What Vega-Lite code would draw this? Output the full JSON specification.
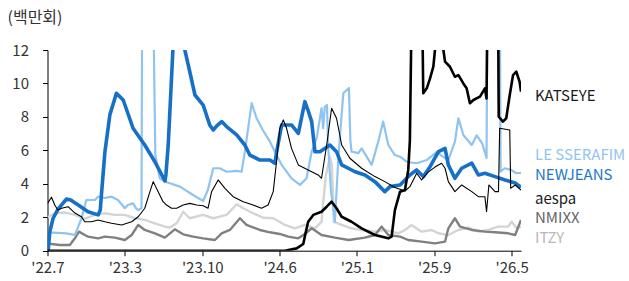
{
  "$schema": "https://vega.github.io/schema/vega-lite/v6.json",
  "width": 473.5,
  "height": 200.7,
  "autosize": {"type": "none"},
  "padding": {"left": 47.5, "top": 50, "right": 108, "bottom": 30.3},
  "background": "white",
  "config": {
    "view": {"stroke": null},
    "font": "Noto Sans CJK KR",
    "axis": {"grid": false, "domainColor": "#000", "tickColor": "#000", "labelColor": "#333", "labelFontSize": 15, "labelFont": "Noto Sans CJK KR", "tickSize": 5, "labelOverlap": false}
  },
  "datasets": {
    "lines": [
      {"s":"ITZY","w":0,"v":2.0},{"s":"ITZY","w":3.1,"v":2.24},{"s":"ITZY","w":7.4,"v":2.28},{"s":"ITZY","w":11.7,"v":2.14},{"s":"ITZY","w":15.9,"v":1.9},{"s":"ITZY","w":20.2,"v":2.14},{"s":"ITZY","w":24.5,"v":2.24},{"s":"ITZY","w":28.7,"v":2.14},{"s":"ITZY","w":33.0,"v":2.14},{"s":"ITZY","w":37.3,"v":1.94},{"s":"ITZY","w":41.5,"v":1.84},{"s":"ITZY","w":45.8,"v":1.64},{"s":"ITZY","w":50.1,"v":1.44},{"s":"ITZY","w":52.2,"v":1.38},{"s":"ITZY","w":55.1,"v":1.64},{"s":"ITZY","w":57.9,"v":2.33},{"s":"ITZY","w":60.7,"v":1.94},{"s":"ITZY","w":66.4,"v":2.14},{"s":"ITZY","w":70.7,"v":1.94},{"s":"ITZY","w":76.4,"v":2.14},{"s":"ITZY","w":80.7,"v":2.78},{"s":"ITZY","w":83.5,"v":2.54},{"s":"ITZY","w":87.7,"v":2.24},{"s":"ITZY","w":92.0,"v":1.97},{"s":"ITZY","w":96.3,"v":1.94},{"s":"ITZY","w":101.3,"v":1.54},{"s":"ITZY","w":105.5,"v":1.34},{"s":"ITZY","w":109.8,"v":1.54},{"s":"ITZY","w":114.1,"v":1.34},{"s":"ITZY","w":116.9,"v":1.72},{"s":"ITZY","w":117.7,"v":3.03},{"s":"ITZY","w":118.8,"v":4.53},{"s":"ITZY","w":120.5,"v":5.6},{"s":"ITZY","w":121.3,"v":5.13},{"s":"ITZY","w":122.2,"v":1.72},{"s":"ITZY","w":125.5,"v":1.54},{"s":"ITZY","w":129.7,"v":1.34},{"s":"ITZY","w":134.0,"v":1.24},{"s":"ITZY","w":139.7,"v":1.14},{"s":"ITZY","w":143.9,"v":1.24},{"s":"ITZY","w":149.6,"v":1.04},{"s":"ITZY","w":152.5,"v":1.24},{"s":"ITZY","w":155.3,"v":1.54},{"s":"ITZY","w":159.6,"v":1.14},{"s":"ITZY","w":163.9,"v":1.24},{"s":"ITZY","w":166.8,"v":1.04},{"s":"ITZY","w":171.0,"v":0.94},{"s":"ITZY","w":175.3,"v":1.24},{"s":"ITZY","w":179.6,"v":1.38},{"s":"ITZY","w":183.8,"v":1.14},{"s":"ITZY","w":188.0,"v":1.24},{"s":"ITZY","w":192.3,"v":1.44},{"s":"ITZY","w":196.5,"v":1.44},{"s":"ITZY","w":198.0,"v":1.73},{"s":"ITZY","w":200.2,"v":1.34},{"s":"ITZY","w":202,"v":1.44},
      {"s":"NMIXX","w":0,"v":0.43},{"s":"NMIXX","w":5.2,"v":0.34},{"s":"NMIXX","w":9.5,"v":0.34},{"s":"NMIXX","w":11.7,"v":0.74},{"s":"NMIXX","w":13.4,"v":1.14},{"s":"NMIXX","w":15.9,"v":0.94},{"s":"NMIXX","w":17.3,"v":0.84},{"s":"NMIXX","w":21.6,"v":0.74},{"s":"NMIXX","w":24.5,"v":0.84},{"s":"NMIXX","w":28.7,"v":0.78},{"s":"NMIXX","w":33.0,"v":0.64},{"s":"NMIXX","w":35.9,"v":0.94},{"s":"NMIXX","w":38.7,"v":1.54},{"s":"NMIXX","w":41.5,"v":1.24},{"s":"NMIXX","w":45.8,"v":1.04},{"s":"NMIXX","w":50.1,"v":0.78},{"s":"NMIXX","w":54.3,"v":1.28},{"s":"NMIXX","w":57.9,"v":0.98},{"s":"NMIXX","w":62.1,"v":0.84},{"s":"NMIXX","w":66.4,"v":0.74},{"s":"NMIXX","w":71.4,"v":0.64},{"s":"NMIXX","w":74.3,"v":1.04},{"s":"NMIXX","w":77.8,"v":1.24},{"s":"NMIXX","w":82.1,"v":1.94},{"s":"NMIXX","w":84.9,"v":1.54},{"s":"NMIXX","w":90.6,"v":1.24},{"s":"NMIXX","w":94.9,"v":1.1},{"s":"NMIXX","w":99.1,"v":1.0},{"s":"NMIXX","w":102.7,"v":0.84},{"s":"NMIXX","w":107.0,"v":0.74},{"s":"NMIXX","w":109.8,"v":1.0},{"s":"NMIXX","w":112.7,"v":1.34},{"s":"NMIXX","w":116.9,"v":0.94},{"s":"NMIXX","w":122.6,"v":0.78},{"s":"NMIXX","w":128.5,"v":0.64},{"s":"NMIXX","w":135.4,"v":0.78},{"s":"NMIXX","w":139.7,"v":0.94},{"s":"NMIXX","w":142.5,"v":1.44},{"s":"NMIXX","w":145.4,"v":0.94},{"s":"NMIXX","w":150.4,"v":0.84},{"s":"NMIXX","w":153.9,"v":0.64},{"s":"NMIXX","w":159.6,"v":0.54},{"s":"NMIXX","w":165.3,"v":0.44},{"s":"NMIXX","w":169.6,"v":0.54},{"s":"NMIXX","w":171.0,"v":1.34},{"s":"NMIXX","w":173.8,"v":1.94},{"s":"NMIXX","w":176.0,"v":1.44},{"s":"NMIXX","w":181.0,"v":1.24},{"s":"NMIXX","w":186.6,"v":1.14},{"s":"NMIXX","w":190.9,"v":1.1},{"s":"NMIXX","w":196.5,"v":1.04},{"s":"NMIXX","w":199.5,"v":0.94},{"s":"NMIXX","w":202,"v":1.84},
      {"s":"LE SSERAFIM","w":0.3,"v":1.09},{"s":"LE SSERAFIM","w":8.1,"v":1.04},{"s":"LE SSERAFIM","w":11.7,"v":0.94},{"s":"LE SSERAFIM","w":12.9,"v":1.36},{"s":"LE SSERAFIM","w":14.5,"v":1.94},{"s":"LE SSERAFIM","w":16.6,"v":3.03},{"s":"LE SSERAFIM","w":20.2,"v":3.03},{"s":"LE SSERAFIM","w":21.6,"v":3.23},{"s":"LE SSERAFIM","w":24.5,"v":3.15},{"s":"LE SSERAFIM","w":27.3,"v":3.23},{"s":"LE SSERAFIM","w":30.1,"v":3.03},{"s":"LE SSERAFIM","w":33.0,"v":2.54},{"s":"LE SSERAFIM","w":34.3,"v":2.73},{"s":"LE SSERAFIM","w":36.5,"v":2.83},{"s":"LE SSERAFIM","w":37.7,"v":2.55},{"s":"LE SSERAFIM","w":38.7,"v":2.43},{"s":"LE SSERAFIM","w":40.1,"v":2.54},{"s":"LE SSERAFIM","w":40.5,"v":20},{"s":"LE SSERAFIM","w":44.6,"v":20},{"s":"LE SSERAFIM","w":46.0,"v":5.72},{"s":"LE SSERAFIM","w":47.9,"v":4.33},{"s":"LE SSERAFIM","w":50.1,"v":4.13},{"s":"LE SSERAFIM","w":52.2,"v":4.03},{"s":"LE SSERAFIM","w":56.5,"v":3.83},{"s":"LE SSERAFIM","w":62.1,"v":3.33},{"s":"LE SSERAFIM","w":66.4,"v":2.97},{"s":"LE SSERAFIM","w":68.4,"v":3.63},{"s":"LE SSERAFIM","w":70.7,"v":4.93},{"s":"LE SSERAFIM","w":73.5,"v":4.93},{"s":"LE SSERAFIM","w":76.4,"v":4.72},{"s":"LE SSERAFIM","w":80.7,"v":4.77},{"s":"LE SSERAFIM","w":82.8,"v":4.72},{"s":"LE SSERAFIM","w":84.2,"v":5.92},{"s":"LE SSERAFIM","w":87.1,"v":8.82},{"s":"LE SSERAFIM","w":89.2,"v":7.92},{"s":"LE SSERAFIM","w":91.9,"v":7.2},{"s":"LE SSERAFIM","w":94.9,"v":6.52},{"s":"LE SSERAFIM","w":97.7,"v":5.72},{"s":"LE SSERAFIM","w":99.9,"v":5.13},{"s":"LE SSERAFIM","w":104.1,"v":4.33},{"s":"LE SSERAFIM","w":107.7,"v":3.93},{"s":"LE SSERAFIM","w":110.5,"v":4.33},{"s":"LE SSERAFIM","w":112.7,"v":5.92},{"s":"LE SSERAFIM","w":114.8,"v":6.72},{"s":"LE SSERAFIM","w":116.9,"v":8.52},{"s":"LE SSERAFIM","w":117.6,"v":7.32},{"s":"LE SSERAFIM","w":118.3,"v":8.61},{"s":"LE SSERAFIM","w":119.2,"v":8.71},{"s":"LE SSERAFIM","w":119.8,"v":6.12},{"s":"LE SSERAFIM","w":120.9,"v":3.63},{"s":"LE SSERAFIM","w":122.6,"v":1.73},{"s":"LE SSERAFIM","w":124.0,"v":5.32},{"s":"LE SSERAFIM","w":124.8,"v":6.92},{"s":"LE SSERAFIM","w":126.2,"v":9.41},{"s":"LE SSERAFIM","w":128.6,"v":9.73},{"s":"LE SSERAFIM","w":129.2,"v":6.62},{"s":"LE SSERAFIM","w":129.7,"v":5.92},{"s":"LE SSERAFIM","w":132.6,"v":5.83},{"s":"LE SSERAFIM","w":134.0,"v":6.12},{"s":"LE SSERAFIM","w":138.3,"v":5.13},{"s":"LE SSERAFIM","w":141.1,"v":6.52},{"s":"LE SSERAFIM","w":143.2,"v":7.72},{"s":"LE SSERAFIM","w":145.4,"v":6.32},{"s":"LE SSERAFIM","w":148.2,"v":5.72},{"s":"LE SSERAFIM","w":150.4,"v":5.62},{"s":"LE SSERAFIM","w":153.2,"v":5.32},{"s":"LE SSERAFIM","w":157.5,"v":5.23},{"s":"LE SSERAFIM","w":161.8,"v":5.42},{"s":"LE SSERAFIM","w":166.0,"v":5.9},{"s":"LE SSERAFIM","w":169.6,"v":5.54},{"s":"LE SSERAFIM","w":171.0,"v":5.42},{"s":"LE SSERAFIM","w":173.8,"v":6.52},{"s":"LE SSERAFIM","w":175.3,"v":7.92},{"s":"LE SSERAFIM","w":177.4,"v":6.92},{"s":"LE SSERAFIM","w":181.0,"v":6.32},{"s":"LE SSERAFIM","w":183.1,"v":6.9},{"s":"LE SSERAFIM","w":185.5,"v":6.4},{"s":"LE SSERAFIM","w":187.3,"v":5.54},{"s":"LE SSERAFIM","w":187.9,"v":20},{"s":"LE SSERAFIM","w":192.8,"v":20},{"s":"LE SSERAFIM","w":193.3,"v":4.72},{"s":"LE SSERAFIM","w":195.0,"v":4.93},{"s":"LE SSERAFIM","w":197.8,"v":4.83},{"s":"LE SSERAFIM","w":200.0,"v":4.63},{"s":"LE SSERAFIM","w":202,"v":4.65},
      {"s":"NEWJEANS","w":0.3,"v":0.04},{"s":"NEWJEANS","w":1.0,"v":1.14},{"s":"NEWJEANS","w":2.4,"v":1.94},{"s":"NEWJEANS","w":4.5,"v":2.49},{"s":"NEWJEANS","w":8.1,"v":3.09},{"s":"NEWJEANS","w":9.9,"v":3.03},{"s":"NEWJEANS","w":13.1,"v":2.73},{"s":"NEWJEANS","w":17.3,"v":2.33},{"s":"NEWJEANS","w":21.6,"v":2.14},{"s":"NEWJEANS","w":22.5,"v":2.43},{"s":"NEWJEANS","w":23.0,"v":3.33},{"s":"NEWJEANS","w":24.5,"v":5.92},{"s":"NEWJEANS","w":26.6,"v":8.12},{"s":"NEWJEANS","w":29.4,"v":9.41},{"s":"NEWJEANS","w":32.3,"v":9.01},{"s":"NEWJEANS","w":36.5,"v":7.32},{"s":"NEWJEANS","w":41.5,"v":6.32},{"s":"NEWJEANS","w":45.8,"v":5.32},{"s":"NEWJEANS","w":50.1,"v":4.17},{"s":"NEWJEANS","w":50.5,"v":4.53},{"s":"NEWJEANS","w":51.5,"v":6.32},{"s":"NEWJEANS","w":53.5,"v":12},{"s":"NEWJEANS","w":54.3,"v":14},{"s":"NEWJEANS","w":56.5,"v":15},{"s":"NEWJEANS","w":58.4,"v":13},{"s":"NEWJEANS","w":58.6,"v":12},{"s":"NEWJEANS","w":60.7,"v":10.7},{"s":"NEWJEANS","w":62.9,"v":9.31},{"s":"NEWJEANS","w":66.4,"v":8.71},{"s":"NEWJEANS","w":69.2,"v":7.52},{"s":"NEWJEANS","w":70.7,"v":7.22},{"s":"NEWJEANS","w":72.2,"v":7.46},{"s":"NEWJEANS","w":74.3,"v":7.72},{"s":"NEWJEANS","w":76.4,"v":7.42},{"s":"NEWJEANS","w":80.7,"v":6.92},{"s":"NEWJEANS","w":84.2,"v":6.32},{"s":"NEWJEANS","w":86.3,"v":5.72},{"s":"NEWJEANS","w":90.6,"v":5.42},{"s":"NEWJEANS","w":94.9,"v":5.42},{"s":"NEWJEANS","w":97.0,"v":5.23},{"s":"NEWJEANS","w":97.9,"v":6.02},{"s":"NEWJEANS","w":99.9,"v":7.52},{"s":"NEWJEANS","w":104.1,"v":7.52},{"s":"NEWJEANS","w":107.0,"v":7.02},{"s":"NEWJEANS","w":109.8,"v":8.91},{"s":"NEWJEANS","w":111.1,"v":8.41},{"s":"NEWJEANS","w":112.7,"v":7.72},{"s":"NEWJEANS","w":114.1,"v":5.92},{"s":"NEWJEANS","w":116.2,"v":5.92},{"s":"NEWJEANS","w":120.5,"v":6.32},{"s":"NEWJEANS","w":123.3,"v":5.92},{"s":"NEWJEANS","w":125.5,"v":5.13},{"s":"NEWJEANS","w":131.2,"v":4.72},{"s":"NEWJEANS","w":135.4,"v":4.53},{"s":"NEWJEANS","w":139.7,"v":4.13},{"s":"NEWJEANS","w":143.9,"v":3.53},{"s":"NEWJEANS","w":146.1,"v":3.83},{"s":"NEWJEANS","w":150.4,"v":3.93},{"s":"NEWJEANS","w":154.6,"v":4.53},{"s":"NEWJEANS","w":157.5,"v":4.83},{"s":"NEWJEANS","w":160.3,"v":4.43},{"s":"NEWJEANS","w":163.2,"v":5.02},{"s":"NEWJEANS","w":166.8,"v":5.92},{"s":"NEWJEANS","w":169.6,"v":6.12},{"s":"NEWJEANS","w":171.0,"v":5.13},{"s":"NEWJEANS","w":173.8,"v":4.33},{"s":"NEWJEANS","w":176.7,"v":4.93},{"s":"NEWJEANS","w":181.0,"v":5.23},{"s":"NEWJEANS","w":183.8,"v":4.53},{"s":"NEWJEANS","w":186.6,"v":4.63},{"s":"NEWJEANS","w":190.9,"v":4.43},{"s":"NEWJEANS","w":195.2,"v":4.23},{"s":"NEWJEANS","w":199.5,"v":4.05},{"s":"NEWJEANS","w":202,"v":3.8},
      {"s":"aespa","w":0,"v":2.83},{"s":"aespa","w":1.7,"v":3.2},{"s":"aespa","w":3.1,"v":2.73},{"s":"aespa","w":4.4,"v":2.43},{"s":"aespa","w":6.0,"v":2.54},{"s":"aespa","w":8.8,"v":2.63},{"s":"aespa","w":11.7,"v":2.25},{"s":"aespa","w":14.5,"v":2.03},{"s":"aespa","w":15.9,"v":1.73},{"s":"aespa","w":18.8,"v":1.73},{"s":"aespa","w":21.6,"v":1.84},{"s":"aespa","w":24.5,"v":1.73},{"s":"aespa","w":27.3,"v":1.64},{"s":"aespa","w":31.6,"v":1.54},{"s":"aespa","w":35.9,"v":1.73},{"s":"aespa","w":38.7,"v":2.03},{"s":"aespa","w":41.5,"v":2.54},{"s":"aespa","w":43.7,"v":3.53},{"s":"aespa","w":45.1,"v":4.13},{"s":"aespa","w":47.2,"v":3.53},{"s":"aespa","w":49.3,"v":2.93},{"s":"aespa","w":50.8,"v":2.73},{"s":"aespa","w":52.9,"v":2.54},{"s":"aespa","w":55.1,"v":2.54},{"s":"aespa","w":57.9,"v":2.73},{"s":"aespa","w":60.7,"v":2.83},{"s":"aespa","w":63.6,"v":2.73},{"s":"aespa","w":66.4,"v":2.69},{"s":"aespa","w":68.5,"v":2.54},{"s":"aespa","w":70.0,"v":3.53},{"s":"aespa","w":72.8,"v":4.23},{"s":"aespa","w":75.7,"v":3.73},{"s":"aespa","w":79.2,"v":3.23},{"s":"aespa","w":83.5,"v":2.93},{"s":"aespa","w":87.7,"v":2.73},{"s":"aespa","w":91.3,"v":2.54},{"s":"aespa","w":94.1,"v":2.73},{"s":"aespa","w":96.3,"v":3.53},{"s":"aespa","w":97.7,"v":5.32},{"s":"aespa","w":99.1,"v":7.32},{"s":"aespa","w":100.6,"v":7.82},{"s":"aespa","w":102.0,"v":7.32},{"s":"aespa","w":104.1,"v":6.12},{"s":"aespa","w":107.0,"v":5.13},{"s":"aespa","w":111.2,"v":4.83},{"s":"aespa","w":115.5,"v":4.53},{"s":"aespa","w":116.9,"v":4.33},{"s":"aespa","w":119.1,"v":6.32},{"s":"aespa","w":121.2,"v":8.52},{"s":"aespa","w":123.3,"v":7.92},{"s":"aespa","w":125.5,"v":6.32},{"s":"aespa","w":129.0,"v":5.53},{"s":"aespa","w":134.0,"v":4.93},{"s":"aespa","w":139.7,"v":4.43},{"s":"aespa","w":143.9,"v":4.13},{"s":"aespa","w":148.2,"v":3.78},{"s":"aespa","w":152.5,"v":3.57},{"s":"aespa","w":154.6,"v":3.83},{"s":"aespa","w":157.5,"v":4.63},{"s":"aespa","w":159.6,"v":4.23},{"s":"aespa","w":162.4,"v":4.7},{"s":"aespa","w":165.3,"v":5.0},{"s":"aespa","w":168.1,"v":5.23},{"s":"aespa","w":169.6,"v":4.93},{"s":"aespa","w":171.0,"v":4.13},{"s":"aespa","w":173.8,"v":3.53},{"s":"aespa","w":176.7,"v":3.93},{"s":"aespa","w":181.0,"v":3.53},{"s":"aespa","w":183.8,"v":3.23},{"s":"aespa","w":186.6,"v":3.23},{"s":"aespa","w":187.3,"v":2.33},{"s":"aespa","w":188.3,"v":3.93},{"s":"aespa","w":190.9,"v":3.53},{"s":"aespa","w":192.4,"v":3.53},{"s":"aespa","w":192.9,"v":7.32},{"s":"aespa","w":197.2,"v":7.22},{"s":"aespa","w":197.6,"v":3.73},{"s":"aespa","w":199.5,"v":3.93},{"s":"aespa","w":202,"v":3.63},
      {"s":"KATSEYE","w":0,"v":0},{"s":"KATSEYE","w":101.3,"v":0},{"s":"KATSEYE","w":106.3,"v":0.14},{"s":"KATSEYE","w":109.1,"v":0.4},{"s":"KATSEYE","w":110.2,"v":1.12},{"s":"KATSEYE","w":111.2,"v":1.73},{"s":"KATSEYE","w":113.4,"v":2.14},{"s":"KATSEYE","w":116.9,"v":2.33},{"s":"KATSEYE","w":119.1,"v":2.63},{"s":"KATSEYE","w":121.2,"v":2.93},{"s":"KATSEYE","w":123.3,"v":2.54},{"s":"KATSEYE","w":125.5,"v":2.03},{"s":"KATSEYE","w":129.7,"v":1.73},{"s":"KATSEYE","w":134.0,"v":1.34},{"s":"KATSEYE","w":139.7,"v":0.94},{"s":"KATSEYE","w":145.4,"v":0.74},{"s":"KATSEYE","w":146.8,"v":0.84},{"s":"KATSEYE","w":148.2,"v":2.43},{"s":"KATSEYE","w":150.4,"v":3.53},{"s":"KATSEYE","w":152.5,"v":3.63},{"s":"KATSEYE","w":153.9,"v":4.83},{"s":"KATSEYE","w":154.6,"v":6.6},{"s":"KATSEYE","w":155.3,"v":14},{"s":"KATSEYE","w":158,"v":16},{"s":"KATSEYE","w":159.9,"v":14},{"s":"KATSEYE","w":160.3,"v":9.41},{"s":"KATSEYE","w":161.8,"v":9.71},{"s":"KATSEYE","w":163.2,"v":10.3},{"s":"KATSEYE","w":164.6,"v":11.0},{"s":"KATSEYE","w":165.3,"v":12.0},{"s":"KATSEYE","w":165.8,"v":14},{"s":"KATSEYE","w":167.5,"v":14},{"s":"KATSEYE","w":168.9,"v":12.0},{"s":"KATSEYE","w":169.6,"v":11.3},{"s":"KATSEYE","w":171.7,"v":11.0},{"s":"KATSEYE","w":173.8,"v":10.4},{"s":"KATSEYE","w":175.3,"v":10.5},{"s":"KATSEYE","w":177.4,"v":10.0},{"s":"KATSEYE","w":178.8,"v":9.71},{"s":"KATSEYE","w":180.2,"v":8.82},{"s":"KATSEYE","w":181.7,"v":9.01},{"s":"KATSEYE","w":184.5,"v":9.21},{"s":"KATSEYE","w":186.6,"v":9.71},{"s":"KATSEYE","w":187.3,"v":9.1},{"s":"KATSEYE","w":187.7,"v":15},{"s":"KATSEYE","w":192.2,"v":15},{"s":"KATSEYE","w":192.5,"v":8.01},{"s":"KATSEYE","w":194.3,"v":7.72},{"s":"KATSEYE","w":195.7,"v":7.92},{"s":"KATSEYE","w":197.2,"v":9.31},{"s":"KATSEYE","w":198.6,"v":10.5},{"s":"KATSEYE","w":200.0,"v":10.7},{"s":"KATSEYE","w":201.4,"v":10.1},{"s":"KATSEYE","w":202,"v":9.51}
    ],
    "labels": [
      {"s":"KATSEYE","w":202,"ly":9.24},
      {"s":"LE SSERAFIM","w":202,"ly":5.72},
      {"s":"NEWJEANS","w":202,"ly":4.53},
      {"s":"aespa","w":202,"ly":3.1},
      {"s":"NMIXX","w":202,"ly":1.96},
      {"s":"ITZY","w":202,"ly":0.78}
    ]
  },
  "layer": [
    {
      "data": {"name": "lines"},
      "encoding": {
        "x": {"field": "w", "type": "quantitative", "scale": {"domain": [0, 202], "nice": false, "zero": false},
          "axis": {"title": null, "values": [0, 33, 66, 99, 132, 165, 198], "labelExpr": "[\"'22.7\",\"'23.3\",\"'23.10\",\"'24.6\",\"'25.1\",\"'25.9\",\"'26.5\"][round(datum.value/33)]", "labelPadding": 5, "labelFlush": false, "labelOverlap": false}},
        "y": {"field": "v", "type": "quantitative", "scale": {"domain": [0, 12], "nice": false},
          "axis": {"values": [0, 2, 4, 6, 8, 10, 12], "labelOverlap": false, "labelPadding": 14, "title": "(백만회)", "titleAngle": 0, "titleAlign": "left", "titleBaseline": "middle", "titleX": -40.5, "titleY": -33, "titleFontSize": 16, "titleFontWeight": "normal", "titleColor": "#333", "titleFont": "Noto Sans CJK KR"}},
        "order": {"field": "w", "type": "quantitative"}
      },
      "layer": [
        {"transform": [{"filter": "datum.s === 'ITZY'"}],
          "mark": {"type": "line", "clip": true, "strokeJoin": "round", "color": "#d4d4d4", "strokeWidth": 2.4}},
        {"transform": [{"filter": "datum.s === 'NMIXX'"}],
          "mark": {"type": "line", "clip": true, "strokeJoin": "round", "color": "#808080", "strokeWidth": 2.4}},
        {"transform": [{"filter": "datum.s === 'LE SSERAFIM'"}],
          "mark": {"type": "line", "clip": true, "strokeJoin": "round", "color": "#8fc3f0", "strokeWidth": 2.2}},
        {"transform": [{"filter": "datum.s === 'NEWJEANS'"}],
          "mark": {"type": "line", "clip": true, "strokeJoin": "round", "color": "#1670c8", "strokeWidth": 3.6}},
        {"transform": [{"filter": "datum.s === 'aespa'"}],
          "mark": {"type": "line", "clip": true, "strokeJoin": "round", "color": "#000000", "strokeWidth": 1.1}},
        {"transform": [{"filter": "datum.s === 'KATSEYE'"}],
          "mark": {"type": "line", "clip": true, "strokeJoin": "round", "color": "#000000", "strokeWidth": 2.6}}
      ]
    },
    {
      "data": {"name": "labels"},
      "mark": {"type": "text", "align": "left", "baseline": "middle", "dx": 14, "fontSize": 15, "font": "Noto Sans CJK KR"},
      "encoding": {
        "x": {"field": "w", "type": "quantitative",
          "axis": {"title": null, "values": [0, 33, 66, 99, 132, 165, 198], "labelExpr": "[\"'22.7\",\"'23.3\",\"'23.10\",\"'24.6\",\"'25.1\",\"'25.9\",\"'26.5\"][round(datum.value/33)]", "labelPadding": 5, "labelFlush": false, "labelOverlap": false}},
        "y": {"field": "ly", "type": "quantitative",
          "axis": {"values": [0, 2, 4, 6, 8, 10, 12], "labelOverlap": false, "labelPadding": 14, "title": "(백만회)", "titleAngle": 0, "titleAlign": "left", "titleBaseline": "middle", "titleX": -40.5, "titleY": -33, "titleFontSize": 16, "titleFontWeight": "normal", "titleColor": "#333", "titleFont": "Noto Sans CJK KR"}},
        "text": {"field": "s"},
        "color": {"field": "s", "type": "nominal", "legend": null,
          "scale": {"domain": ["KATSEYE", "LE SSERAFIM", "NEWJEANS", "aespa", "NMIXX", "ITZY"], "range": ["#1a1a1a", "#92c5f0", "#2278cc", "#1a1a1a", "#666666", "#b8b8b8"]}}
      }
    }
  ]
}
